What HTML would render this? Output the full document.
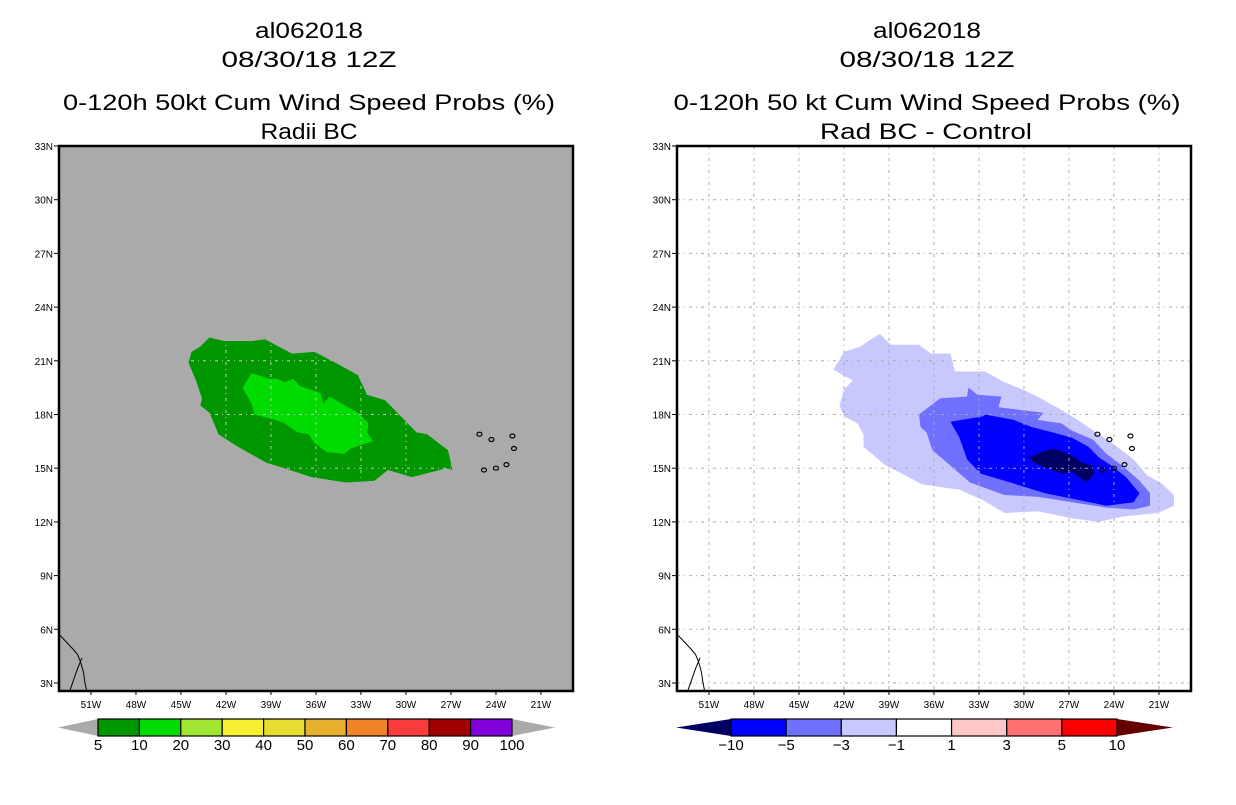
<!DOCTYPE html>
<html><head><meta charset="utf-8"><style>
body{margin:0;background:#fff;width:1236px;height:800px;overflow:hidden}
svg text{font-family:"Liberation Sans",sans-serif}
</style></head><body>
<svg id="s" width="1236" height="800" xmlns="http://www.w3.org/2000/svg">
<text x="309" y="38" font-size="22" text-anchor="middle" textLength="108" lengthAdjust="spacingAndGlyphs">al062018</text>
<text x="309" y="67" font-size="22" text-anchor="middle" textLength="175" lengthAdjust="spacingAndGlyphs">08/30/18 12Z</text>
<text x="309" y="110" font-size="22" text-anchor="middle" textLength="492" lengthAdjust="spacingAndGlyphs">0-120h 50kt Cum Wind Speed Probs (%)</text>
<text x="309" y="139" font-size="22" text-anchor="middle" textLength="97" lengthAdjust="spacingAndGlyphs">Radii BC</text>
<text x="927" y="38" font-size="22" text-anchor="middle" textLength="108" lengthAdjust="spacingAndGlyphs">al062018</text>
<text x="927" y="67" font-size="22" text-anchor="middle" textLength="175" lengthAdjust="spacingAndGlyphs">08/30/18 12Z</text>
<text x="927" y="110" font-size="22" text-anchor="middle" textLength="507" lengthAdjust="spacingAndGlyphs">0-120h 50 kt Cum Wind Speed Probs (%)</text>
<text x="926" y="139" font-size="22" text-anchor="middle" textLength="212" lengthAdjust="spacingAndGlyphs">Rad BC - Control</text>
</svg>
<script>
const lonTicks=[-51,-48,-45,-42,-39,-36,-33,-30,-27,-24,-21];
const latTicks=[3,6,9,12,15,18,21,24,27,30,33];
const lbOuter=[[-43.1,22.3],[-42.1,22.1],[-40.3,22.1],[-39.4,22.2],[-37.6,21.4],[-36.1,21.5],[-34.5,20.8],[-33.2,20.2],[-32.6,19.1],[-31.4,18.8],[-29.3,17.0],[-28.6,16.9],[-27.2,16.0],[-26.9,14.9],[-27.3,15.0],[-29.6,14.5],[-31.2,14.9],[-32.1,14.3],[-34.0,14.2],[-36.3,14.5],[-38.1,15.0],[-39.3,15.3],[-41.2,16.2],[-42.5,16.9],[-43.1,18.1],[-43.7,18.5],[-43.6,18.9],[-44.0,19.9],[-44.5,20.9],[-44.3,21.5],[-43.7,21.8]];
const lbInner=[[-40.3,20.3],[-39.1,20.0],[-38.6,20.0],[-38.1,19.8],[-37.5,20.0],[-37.1,19.6],[-35.7,19.2],[-35.5,18.6],[-35.1,19.0],[-33.2,18.1],[-32.5,17.5],[-32.6,17.0],[-32.2,16.5],[-33.7,16.1],[-34.1,15.8],[-35.3,15.9],[-36.1,16.4],[-36.5,16.9],[-37.2,17.0],[-38.1,17.5],[-38.7,17.7],[-40.1,18.0],[-40.3,18.6],[-40.9,19.5]];
const rLight=[[-39.6,22.5],[-38.9,21.9],[-37.0,21.9],[-36.2,21.4],[-34.9,21.4],[-34.6,20.4],[-32.6,20.4],[-31.3,19.8],[-30.1,19.4],[-29.1,19.0],[-27.6,18.3],[-26.8,17.9],[-25.2,17.0],[-24.1,16.4],[-22.7,15.5],[-21.8,14.6],[-20.9,14.2],[-20.0,13.5],[-20.0,12.9],[-21.1,12.5],[-23.4,12.3],[-25.0,12.0],[-26.8,12.2],[-29.1,12.6],[-31.3,12.5],[-32.7,13.2],[-34.3,13.8],[-35.2,13.9],[-36.8,14.1],[-37.7,14.5],[-39.3,15.2],[-40.7,16.2],[-40.7,16.9],[-41.1,17.5],[-42.0,17.9],[-42.3,18.5],[-42.0,19.4],[-41.4,19.9],[-42.7,20.5],[-42.0,21.5],[-40.9,21.8],[-40.2,22.2]];
const rMed=[[-37.0,18.0],[-35.6,18.9],[-33.8,19.0],[-33.7,19.5],[-33.1,19.1],[-31.5,19.0],[-31.7,18.4],[-28.7,18.1],[-29.1,17.7],[-27.5,17.5],[-26.8,17.1],[-25.4,16.6],[-24.5,15.8],[-23.4,15.1],[-22.3,14.3],[-21.6,13.6],[-21.6,12.9],[-22.7,12.7],[-24.5,12.8],[-26.8,13.1],[-29.1,13.4],[-31.3,13.5],[-33.6,14.2],[-35.4,15.5],[-36.1,16.0],[-36.5,17.0],[-36.9,17.3]];
const rBlue=[[-34.9,17.6],[-32.7,17.9],[-32.6,18.0],[-30.7,17.7],[-29.5,17.3],[-28.1,17.0],[-26.8,16.7],[-25.7,16.2],[-25.0,15.6],[-24.1,15.1],[-23.2,14.5],[-22.3,13.6],[-22.7,13.1],[-24.5,12.9],[-26.8,13.3],[-28.6,13.6],[-30.9,14.2],[-32.9,14.7],[-33.8,15.5],[-34.3,16.7]];
const rDark=[[-29.7,15.6],[-28.8,15.9],[-28.1,16.1],[-27.3,15.9],[-26.8,15.7],[-26.1,15.3],[-25.4,15.1],[-25.3,14.7],[-25.8,14.2],[-26.3,14.5],[-26.8,14.8],[-27.5,14.7],[-28.1,14.9],[-28.8,15.1],[-29.3,15.3]];
const coast1=[[-53.1,5.7],[-52.2,4.9],[-51.9,4.6],[-51.7,4.2],[-51.5,3.6],[-51.4,3.0],[-51.3,2.6]];
const coast2=[[-52.4,2.6],[-51.9,3.8],[-51.6,4.4]];
const islands=[[-25.1,16.9],[-24.3,16.6],[-22.9,16.8],[-22.8,16.1],[-23.3,15.2],[-24.0,15.0],[-24.8,14.9]];
const leftCbLabels=["5","10","20","30","40","50","60","70","80","90","100"];
const leftCbColors=["#009600","#00dc00","#a0e632","#f5f032","#e6dc32","#e6af2d","#f08228","#fa3c3c","#a00000","#8200dc"];
const rightCbLabels=["-10","-5","-3","-1","1","3","5","10"];
const rightCbColors=["#0000ff","#7070ff","#c8c8ff","#ffffff","#ffc8c8","#ff7070","#ff0000"];

const NS="http://www.w3.org/2000/svg",svg=document.getElementById('s');
function mk(tag,at,parent){const e=document.createElementNS(NS,tag);for(const k in at)e.setAttribute(k,at[k]);(parent||svg).appendChild(e);return e;}
const W=514,H=545,T=146;
function xs(off){return lon=>off+(lon+53.13)*15;}
function ys(lat){return T+(33-lat)*17.9;}
function pts(arr,x){return arr.map(p=>x(p[0]).toFixed(1)+","+ys(p[1]).toFixed(1)).join(" ");}

function panel(off,side){
  const x=xs(off);
  const g=mk('g',{});
  
  
  const cid='clip'+side;
  const cp=mk('clipPath',{id:cid},g);mk('rect',{x:off,y:T,width:W,height:H},cp);
  const bg=mk('rect',{x:off,y:T,width:W,height:H,fill:side==='left'?'#aaaaaa':'#ffffff'},g);
  
  
  const inner=mk('g',{'clip-path':'url(#'+cid+')'},g);
  function poly(arr,fill,name){const p=mk('polygon',{points:pts(arr,x),fill:fill},inner);
    
    return p;}
  let gridClip=null;
  if(side==='left'){
    poly(lbOuter,'#009600','prob-contour-5-10');
    poly(lbInner,'#00dc00','prob-contour-10-20');
    const gc=mk('clipPath',{id:'gclip'},g);mk('polygon',{points:pts(lbOuter,x)},gc);gridClip='url(#gclip)';
  }else{
    poly(rLight,'#c8c8ff','diff-contour-minus3-minus1');
    poly(rMed,'#7070ff','diff-contour-minus5-minus3');
    poly(rBlue,'#0000ff','diff-contour-minus10-minus5');
    poly(rDark,'#000064','diff-contour-below-minus10');
  }
  const gg=mk('g',gridClip?{'clip-path':gridClip}:{},inner);
  
  
  const gcol=side==='left'?'#c8c8c8':'#aaaaaa';
  lonTicks.forEach(l=>mk('line',{x1:x(l),x2:x(l),y1:T,y2:T+H,stroke:gcol,'stroke-dasharray':'3,4,1,4'},gg));
  latTicks.forEach(l=>mk('line',{x1:off,x2:off+W,y1:ys(l),y2:ys(l),stroke:gcol,'stroke-dasharray':'3,4,1,4'},gg));
  const c1=mk('polyline',{points:pts(coast1,x),fill:'none',stroke:'#000','stroke-width':1},inner);
  
  
  mk('polyline',{points:pts(coast2,x),fill:'none',stroke:'#000','stroke-width':1},inner);
  islands.forEach(p=>{const e=mk('ellipse',{cx:x(p[0]),cy:ys(p[1]),rx:2.5,ry:2,fill:'none',stroke:'#000','stroke-width':1.2},inner);
    
    });
  const fr=mk('rect',{x:off,y:T,width:W,height:H,fill:'none',stroke:'#000','stroke-width':2.5},g);
  
  
  lonTicks.forEach(l=>{mk('line',{x1:x(l),x2:x(l),y1:T+H,y2:T+H+4,stroke:'#000'},g);
    const t=mk('text',{x:x(l),y:T+H+17,'font-size':10,'text-anchor':'middle'},g);t.textContent=(-l)+'W';
    
    });
  latTicks.forEach(l=>{mk('line',{x1:off-5,x2:off,y1:ys(l),y2:ys(l),stroke:'#000'},g);
    const t=mk('text',{x:off-6,y:ys(l)+4,'font-size':10,'text-anchor':'end'},g);t.textContent=l+'N';
    
    });
}
panel(59,'left');panel(677,'right');

function colorbar(x0,x1,t0,t1,cols,labels,lc,rc,side){
  const g=mk('g',{});
  
  
  const y0=719,y1=736,ym=727.5,bw=(x1-x0)/cols.length;
  mk('polygon',{points:`${t0},${ym} ${x0},${y0} ${x0},${y1}`,fill:lc},g);
  mk('polygon',{points:`${t1},${ym} ${x1},${y0} ${x1},${y1}`,fill:rc},g);
  cols.forEach((c,i)=>{const r=mk('rect',{x:x0+i*bw,y:y0,width:bw,height:y1-y0,fill:c,stroke:'#000','stroke-width':1.2},g);
    
    });
  labels.forEach((s,i)=>{const t=mk('text',{x:x0+i*bw,y:750,'font-size':15,'text-anchor':'middle'},g);t.textContent=s.replace('-','\u2212');
    
    });
}
colorbar(98,512,58,555,leftCbColors,leftCbLabels,'#aaaaaa','#aaaaaa','left');
colorbar(731,1117,676,1173,rightCbColors,rightCbLabels,'#000064','#640000','right');
</script>
</body></html>
